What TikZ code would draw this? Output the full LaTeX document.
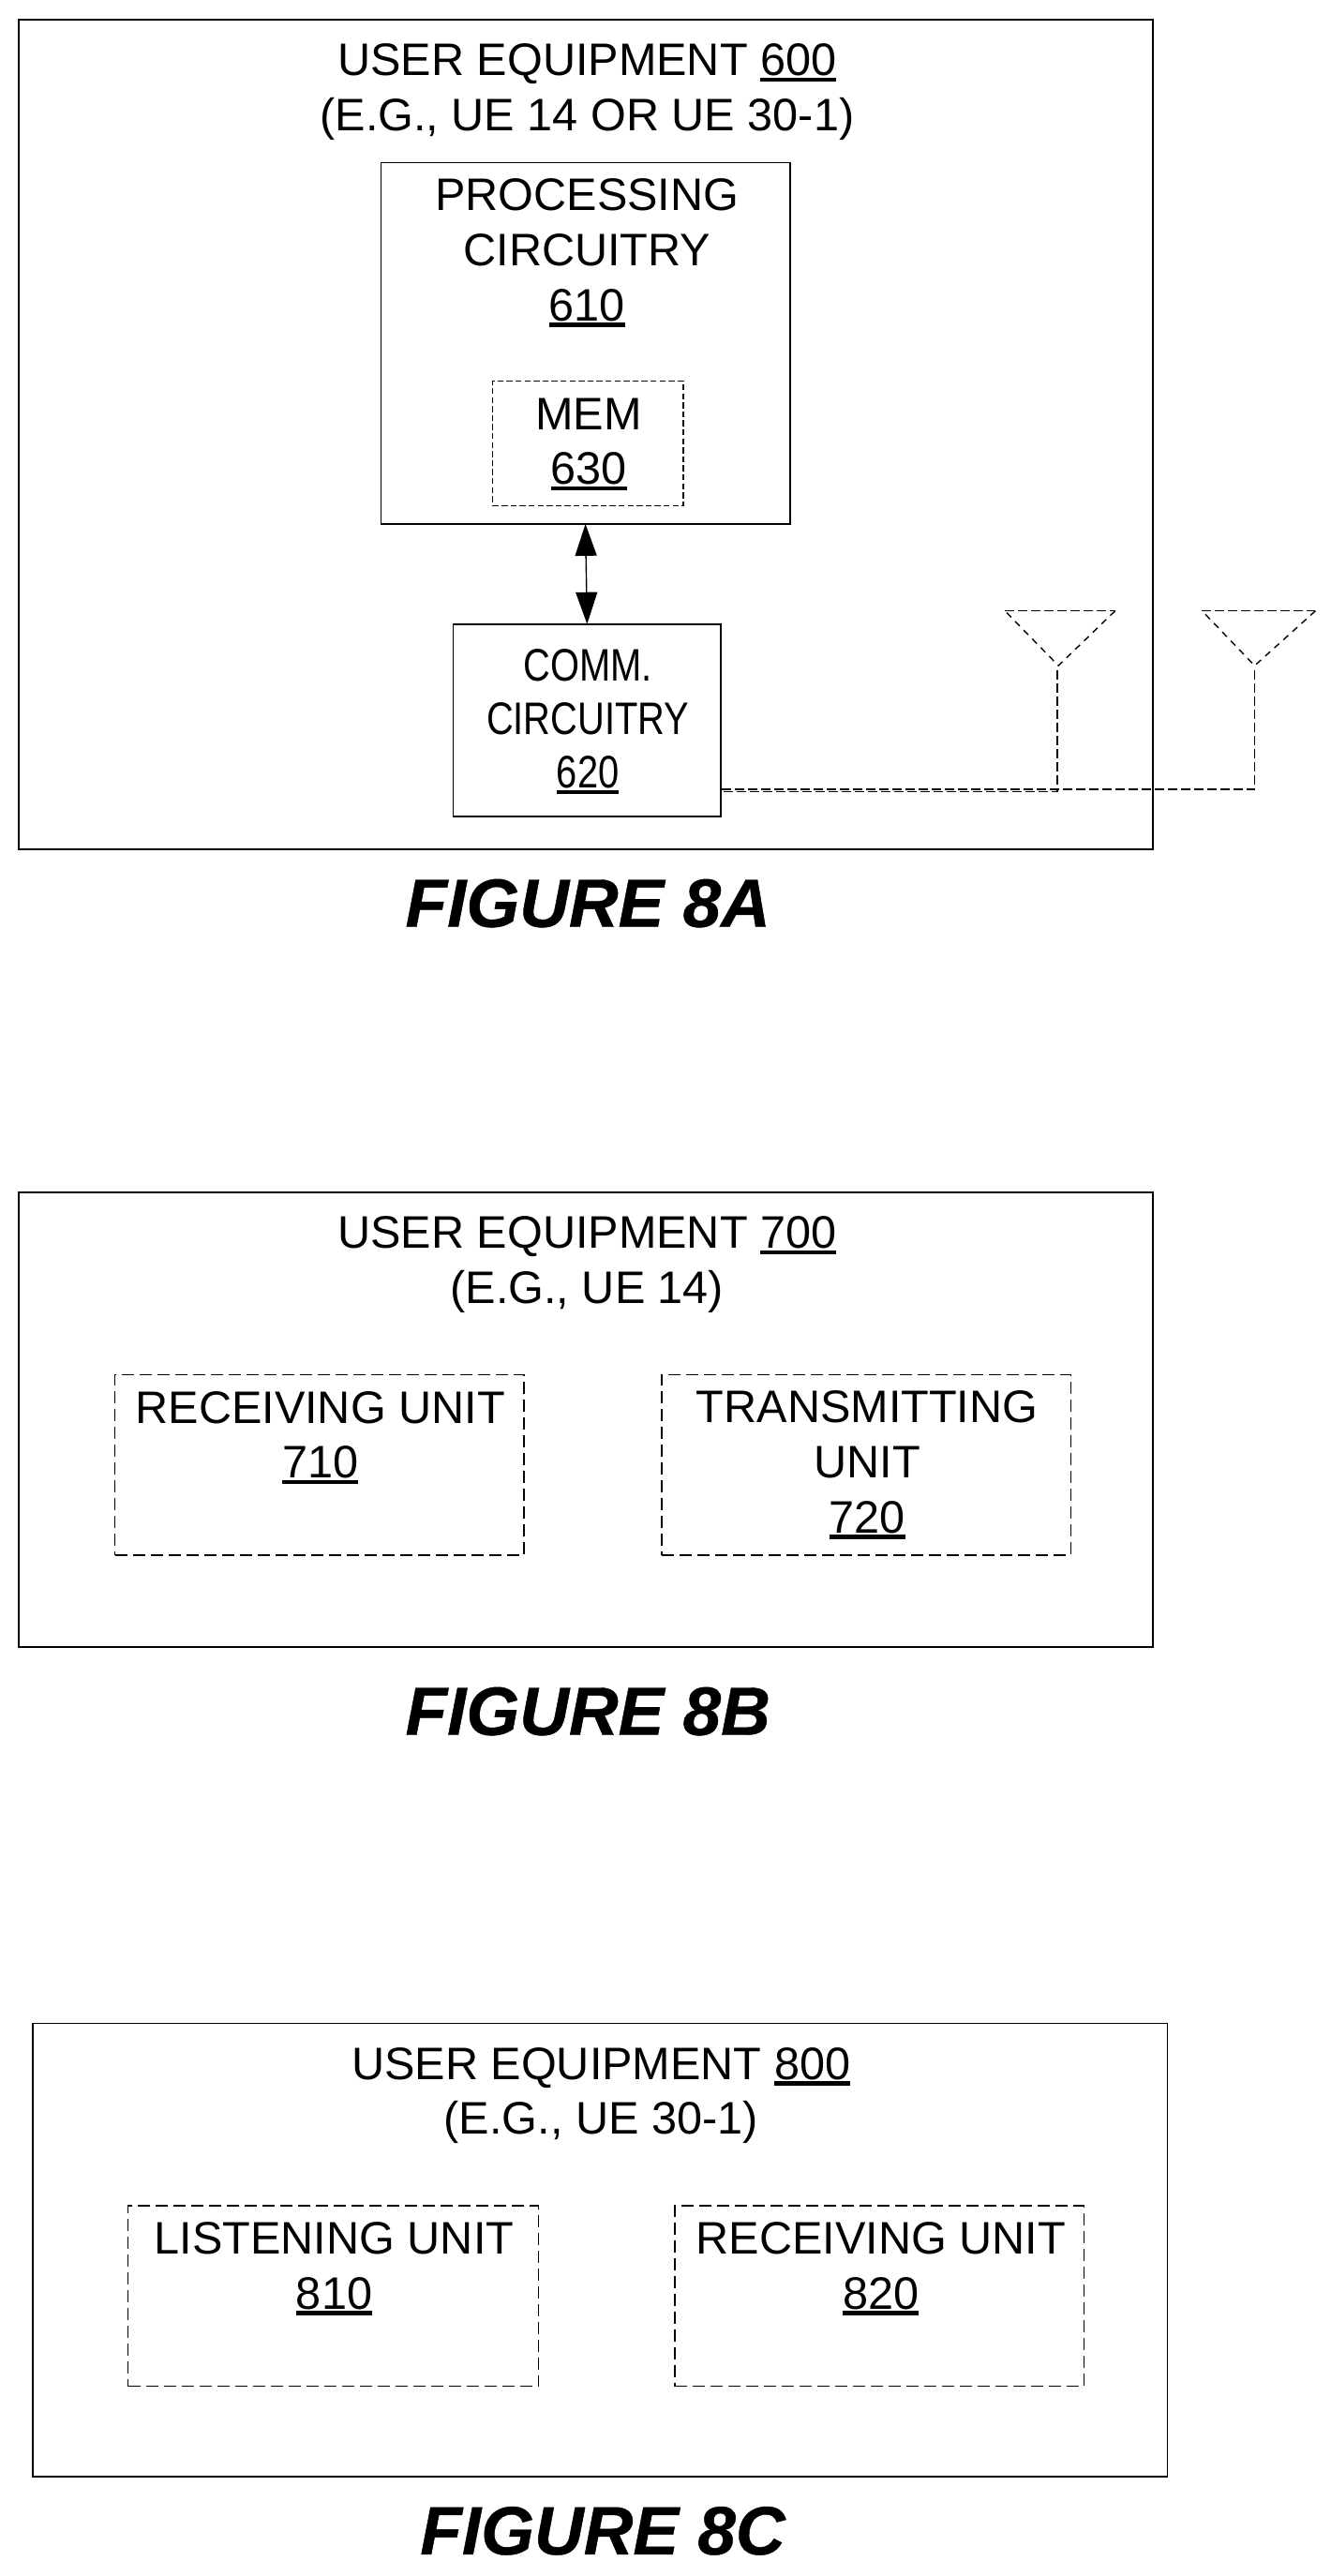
\documentclass[tikz,border=0pt]{standalone}
\usepackage{fontspec}
\setmainfont{Liberation Sans}
\newfontfamily\condfont[FakeStretch=0.82]{Liberation Sans}
\newfontfamily\figfont[ItalicFont={* Bold Italic},ItalicFeatures={FakeBold=0.6}]{Liberation Sans}
\usetikzlibrary{arrows.meta}
\newcommand\ulnum[1]{\leavevmode\setbox0\hbox{#1}\rlap{\rule[-3.2pt]{\wd0}{2.2pt}}\box0}
\tikzset{
  x=0.876pt,y=-0.876pt,
  wh/.style 2 args={minimum width=#1*0.876pt,minimum height=#2*0.876pt,inner sep=0pt,outer sep=0pt},
  txt/.style={inner sep=0pt,font=\fontsize{24.3pt}{29.3pt}\selectfont,align=center,anchor=center},
  ctxt/.style={txt,font=\fontsize{24.3pt}{28.5pt}\condfont},
  fig/.style={inner sep=0pt,font=\fontsize{36.5pt}{40pt}\figfont\itshape,anchor=center},
  solidbox/.style={draw,line width=0.8pt},
  dashbox/.style={draw,line width=0.75pt,dash pattern=on 6.5pt off 3pt},
  memdash/.style={draw,line width=0.75pt,dash pattern=on 3.2pt off 1.6pt},
  dashline/.style={draw,line width=0.75pt,dash pattern=on 5pt off 2pt},
  slantdash/.style={draw,line width=0.7pt,dash pattern=on 3.5pt off 3pt},
  dbl/.style={draw,line width=0.7pt,{Triangle[length=17pt,width=11.5pt]}-{Triangle[length=17pt,width=11.5pt]}},
}
\begin{document}
\begin{tikzpicture}
\useasboundingbox (0,0) rectangle (810,1568.5);
\fill[white] (0,0) rectangle (810,1568.5);
% Figure 8A
\node[solidbox,wh={690.5}{505}] (ue600) at (356.75,264.5) {};
\node[txt] (ta) at (357.5,56) {USER EQUIPMENT \ulnum{600}\\(E.G., UE 14 OR UE 30-1)};
\node[solidbox,wh={249}{220}] (proc) at (356.5,209) {};
\node[txt] (ptxt) at (357.5,154) {PROCESSING\\CIRCUITRY\\\ulnum{610}};
\node[memdash,wh={116}{76}] (mem) at (358,270) {};
\node[txt] (mtxt) at (358.5,270.5) {MEM\\\ulnum{630}};
\node[solidbox,wh={163}{117}] (comm) at (357.5,438.5) {};
\node[ctxt] (ctxt) at (358,439.5) {COMM.\\CIRCUITRY\\\ulnum{620}};
\draw[dbl] (proc.south) -- (comm.north);
\coordinate (c1) at (comm.east |- 0,482);
\coordinate (c2) at (comm.east |- 0,480.6);
\coordinate (a1) at (644.5,405.3);
\coordinate (a2) at (764,405.3);
\draw[dashline] (643.8,408) -- (643.8,482) -- (c1);
\draw[dashline] (764,408) -- (764,480.6) -- (c2);
\draw[dashline] (612,372) -- (679,372);
\draw[slantdash] (679,372) -- (a1) -- (612,372);
\draw[dashline] (732,372) -- (801,372);
\draw[slantdash] (801,372) -- (a2) -- (732,372);
\node[fig] (fa) at (358,550) {FIGURE 8A};
% Figure 8B
\node[solidbox,wh={690.5}{277}] (ue700) at (356.75,864.5) {};
\node[txt] (tb) at (357.5,770) {USER EQUIPMENT \ulnum{700}\\(E.G., UE 14)};
\node[dashbox,wh={249}{110}] (u710) at (194.5,892) {};
\node[txt] (r1) at (195,875.5) {RECEIVING UNIT\\\ulnum{710}};
\node[dashbox,wh={249}{110}] (u720) at (527.5,892) {};
\node[txt] (t1) at (528,892) {TRANSMITTING\\UNIT\\\ulnum{720}};
\node[fig] (fb) at (358,1042) {FIGURE 8B};
% Figure 8C
\node[solidbox,wh={691}{276}] (ue800) at (365.5,1370) {};
\node[txt] (tc) at (366,1276) {USER EQUIPMENT \ulnum{800}\\(E.G., UE 30-1)};
\node[dashbox,wh={250}{110}] (u810) at (203,1398) {};
\node[txt] (l1) at (203.5,1381.5) {LISTENING UNIT\\\ulnum{810}};
\node[dashbox,wh={249}{110}] (u820) at (535.5,1398) {};
\node[txt] (r2) at (536.5,1381.5) {RECEIVING UNIT\\\ulnum{820}};
\node[fig] (fc) at (367,1541) {FIGURE 8C};
\end{tikzpicture}
\end{document}
